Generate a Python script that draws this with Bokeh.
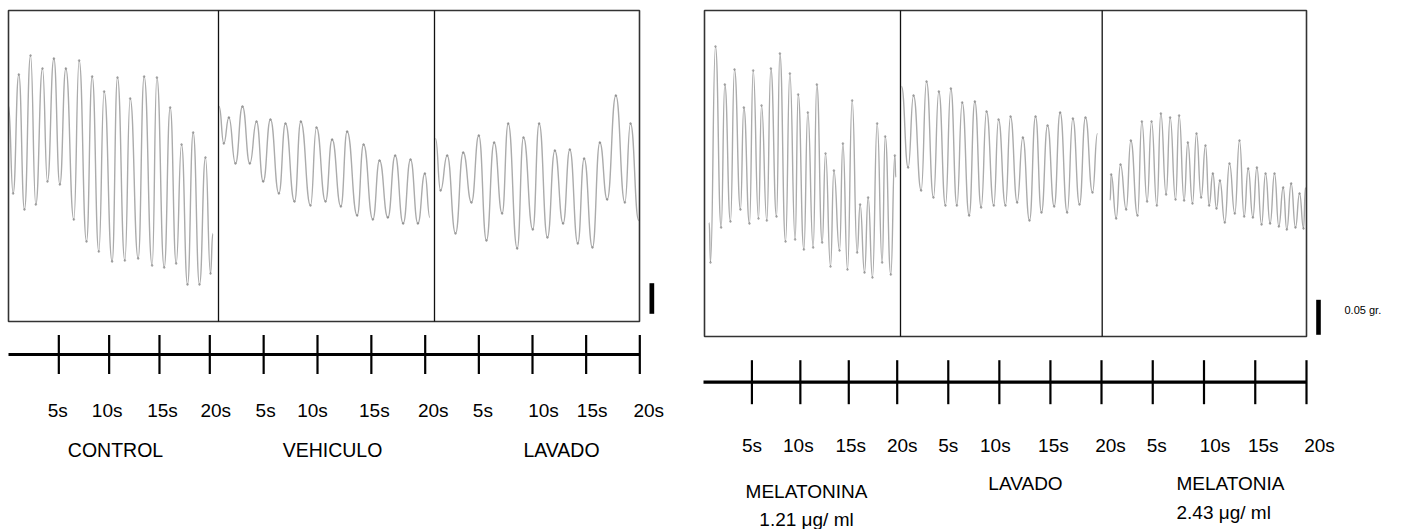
import numpy as np
from bokeh.plotting import figure
from bokeh.models import Range1d, ColumnDataSource
from bokeh.embed import file_html
from bokeh.resources import INLINE
from bokeh.core.properties import value

# ---------------- data (read from the recording) ----------------
# time (s within each 20 s window) and tension (a.u.) at successive turning points
CONTROL_T = [0.0, 0.44, 0.98, 1.52, 2.10, 2.60, 3.24, 3.71, 4.32, 4.89, 5.46, 6.22, 6.73, 7.43, 7.97, 8.60, 9.11, 9.87,
             10.38, 11.08, 11.59, 12.35, 12.92, 13.68, 14.13, 14.83, 15.40, 15.97, 16.48, 17.05, 17.59, 18.19, 18.76,
             19.24, 19.46]
CONTROL_V = [216, 128, 247, 112, 266, 117, 253, 140, 263, 137, 253, 102, 261, 80, 245, 70, 230, 60, 244, 61, 223, 63,
             245, 56, 244, 54, 214, 58, 177, 37, 189, 37, 164, 48, 88]

VEHICULO_T = [0.06, 0.49, 0.96, 1.57, 2.22, 2.90, 3.52, 4.14, 4.81, 5.59, 6.20, 7.04, 7.62, 8.52, 9.07, 9.91, 10.52,
              11.33, 11.91, 12.84, 13.43, 14.29, 14.91, 15.68, 16.36, 17.10, 17.78, 18.46, 19.11, 19.57]
VEHICULO_V = [215, 178, 204, 158, 215, 158, 200, 140, 202, 128, 198, 120, 200, 116, 194, 120, 182, 115, 190, 106, 177,
              102, 161, 104, 166, 98, 162, 98, 148, 104]

LAVADO1_T = [0.10, 0.59, 1.24, 2.05, 2.80, 3.61, 4.32, 5.07, 5.82, 6.60, 7.19, 8.07, 8.68, 9.59, 10.21, 11.02, 11.74,
             12.55, 13.20, 13.98, 14.60, 15.41, 16.13, 16.85, 17.69, 18.57, 19.12, 19.93]
LAVADO1_V = [183, 131, 166, 88, 169, 119, 186, 81, 179, 108, 198, 73, 184, 92, 198, 84, 171, 98, 172, 78, 163, 74, 179,
             122, 226, 119, 198, 101]

MELA1_T = [0.48, 0.61, 1.12, 1.70, 2.07, 2.65, 3.06, 3.67, 4.01, 4.59, 4.97, 5.51, 5.82, 6.36, 6.77, 7.35, 7.69, 8.27,
           8.71, 9.25, 9.56, 10.14, 10.54, 11.09, 11.46, 12.01, 12.35, 12.86, 13.20, 13.78, 14.12, 14.59, 15.07, 15.58,
           15.88, 16.33, 16.70, 17.14, 17.62, 18.13, 18.44, 19.01, 19.42, 19.52]
MELA1_V = [114, 74, 290, 109, 252, 115, 267, 127, 229, 113, 266, 118, 231, 116, 268, 120, 283, 95, 263, 97, 242, 87, 224,
           89, 252, 94, 183, 70, 166, 86, 193, 67, 236, 84, 132, 64, 139, 59, 213, 74, 200, 62, 181, 159]

LAVADO2_T = [0.10, 0.76, 1.29, 2.05, 2.58, 3.27, 3.80, 4.46, 4.99, 5.59, 6.12, 6.81, 7.37, 8.00, 8.53, 9.25, 9.72,
             10.41, 10.91, 11.57, 12.13, 12.79, 13.39, 13.98, 14.58, 15.24, 15.83, 16.53, 17.09, 17.75, 18.34, 19.04,
             19.53]
LAVADO2_V = [250, 169, 241, 146, 255, 139, 245, 131, 248, 131, 234, 121, 235, 129, 225, 131, 217, 131, 220, 134, 199,
             116, 220, 124, 211, 130, 224, 124, 218, 132, 219, 144, 203]

MELA2_T = [0.78, 0.88, 1.37, 1.79, 2.35, 2.80, 3.46, 3.88, 4.40, 4.83, 5.35, 5.74, 6.26, 6.65, 7.18, 7.53, 8.02, 8.38,
           8.84, 9.23, 9.69, 10.11, 10.47, 10.83, 11.19, 11.52, 12.00, 12.46, 12.98, 13.44, 13.90, 14.29, 14.75, 15.14,
           15.60, 15.99, 16.44, 16.87, 17.29, 17.72, 18.07, 18.50, 18.92, 19.32, 19.71, 19.90]
MELA2_V = [136, 162, 118, 172, 127, 196, 121, 215, 135, 215, 131, 223, 142, 219, 137, 221, 136, 194, 133, 203, 139, 191,
           131, 163, 128, 156, 114, 173, 123, 196, 120, 168, 119, 169, 112, 163, 113, 163, 110, 149, 107, 153, 109, 143,
           108, 149]

TICK_TIMES = [5, 10, 15, 20]
TICK_LABELS = ["5s", "10s", "15s", "20s"]
LEFT_GROUPS = ["CONTROL", "VEHICULO", "LAVADO"]
RIGHT_GROUPS = ["MELATONINA", "LAVADO", "MELATONIA"]
RIGHT_DOSES = ["1.21 \u03bcg/ ml", "2.43 \u03bcg/ ml"]
SCALE_LABEL = "0.05  gr."

# ---------------- layout (pixels) ----------------
W, H = 1407, 529
TRACE_COLOR = "#ababab"
FONT = value("Liberation Sans")

p = figure(width=W, height=H, x_range=Range1d(0, W), y_range=Range1d(H, 0),
           output_backend="svg", toolbar_location=None, min_border=0,
           x_axis_location=None, y_axis_location=None)
p.grid.visible = False
p.outline_line_color = None
p.background_fill_color = "white"
p.border_fill_color = "white"


def xrange_for(name, px_left, px_right, span=20.0):
    w = px_right - px_left
    p.extra_x_ranges[name] = Range1d(-px_left * span / w, (W - px_left) * span / w)


def yrange_for(name, px_bottom):
    p.extra_y_ranges[name] = Range1d(px_bottom - H, px_bottom)


panels = [
    dict(xs=[8, 218, 434, 639], top=10, bottom=321, yname="vl"),
    dict(xs=[704, 900, 1101.7, 1306], top=10, bottom=336, yname="vr"),
]
traces = [(CONTROL_T, CONTROL_V), (VEHICULO_T, VEHICULO_V), (LAVADO1_T, LAVADO1_V),
          (MELA1_T, MELA1_V), (LAVADO2_T, LAVADO2_V), (MELA2_T, MELA2_V)]

k = 0
for pan in panels:
    yrange_for(pan["yname"], pan["bottom"])
    xs = pan["xs"]
    for i in range(3):
        name = f"tr{k}"
        xrange_for(name, xs[i], xs[i + 1])
        t = np.array(traces[k][0], dtype=float)
        v = np.array(traces[k][1], dtype=float)
        mid = (t[:-1] + t[1:]) / 2
        src = ColumnDataSource(dict(x0=t[:-1], y0=v[:-1], x1=t[1:], y1=v[1:],
                                    cx0=mid, cy0=v[:-1], cx1=mid, cy1=v[1:]))
        p.bezier(x0="x0", y0="y0", x1="x1", y1="y1", cx0="cx0", cy0="cy0", cx1="cx1", cy1="cy1",
                 source=src, line_color=TRACE_COLOR, line_width=1.4,
                 x_range_name=name, y_range_name=pan["yname"])
        p.scatter(t[1:-1], v[1:-1], size=1.8, color="#666666", alpha=0.35,
                  x_range_name=name, y_range_name=pan["yname"])
        k += 1
    # frame and dividers
    p.quad(left=xs[0], right=xs[3], top=pan["top"], bottom=pan["bottom"],
           fill_color=None, line_color="#333333", line_width=1.6)
    p.segment(x0=xs[1:3], x1=xs[1:3], y0=[pan["top"]] * 2, y1=[pan["bottom"]] * 2,
              line_color="#111111", line_width=1.3)

# ---------------- timelines ----------------
timelines = [
    dict(segs=[(8, 209.3), (209.3, 424.7), (424.7, 639.3)], y=354, half=19.5, label_y=410,
         dx=[-1, -2, 3, 6, 2, -5, 3, 8, 4, 11, 6, 9]),
    dict(segs=[(703, 896.7), (896.7, 1101), (1101, 1306)], y=381.7, half=22, label_y=445,
         dx=[0, -2, 2, 5, 0, -4, 3, 9, 4, 11, 8, 13]),
]
for j, tl in enumerate(timelines):
    for i, (a, b) in enumerate(tl["segs"]):
        name = f"tl{j}{i}"
        xrange_for(name, a, b)
        p.segment(x0=[0], x1=[20], y0=[tl["y"]], y1=[tl["y"]], line_color="black",
                  line_width=3.2, x_range_name=name)
        p.segment(x0=TICK_TIMES, x1=TICK_TIMES, y0=[tl["y"] - tl["half"]] * 4,
                  y1=[tl["y"] + tl["half"]] * 4, line_color="black", line_width=2.2,
                  x_range_name=name)
        src = ColumnDataSource(dict(x=TICK_TIMES, y=[tl["label_y"]] * 4, text=TICK_LABELS,
                                    dx=tl["dx"][4 * i:4 * i + 4]))
        p.text(x="x", y="y", text="text", x_offset="dx", source=src, x_range_name=name,
               text_align="center", text_baseline="middle", text_font=FONT,
               text_font_size="19px", text_color="black")

# ---------------- group labels ----------------
p.text(x=[115, 332, 561], y=[449] * 3, text=LEFT_GROUPS, text_align="center",
       text_baseline="middle", text_font=FONT, text_font_size="19.5px", text_color="black")
p.text(x=[806, 1025], y=[491, 483], text=[RIGHT_GROUPS[0], RIGHT_GROUPS[1]], text_align="center",
       text_baseline="middle", text_font=FONT, text_font_size="19px", text_color="black")
p.text(x=[1176], y=[483], text=[RIGHT_GROUPS[2]], text_align="left",
       text_baseline="middle", text_font=FONT, text_font_size="19px", text_color="black")
p.text(x=[806], y=[519], text=[RIGHT_DOSES[0]], text_align="center",
       text_baseline="middle", text_font=FONT, text_font_size="19px", text_color="black")
p.text(x=[1176], y=[512], text=[RIGHT_DOSES[1]], text_align="left",
       text_baseline="middle", text_font=FONT, text_font_size="19px", text_color="black")

# ---------------- scale bars ----------------
p.quad(left=[649, 1315.7], right=[653.7, 1320.3], top=[282.7, 299.3], bottom=[313.3, 334.3],
       fill_color="black", line_color=None)
p.text(x=[1344], y=[309], text=[SCALE_LABEL], text_align="left", text_baseline="middle",
       text_font=FONT, text_font_size="11px", text_color="black")

open("out.html", "w").write(file_html(p, INLINE))
